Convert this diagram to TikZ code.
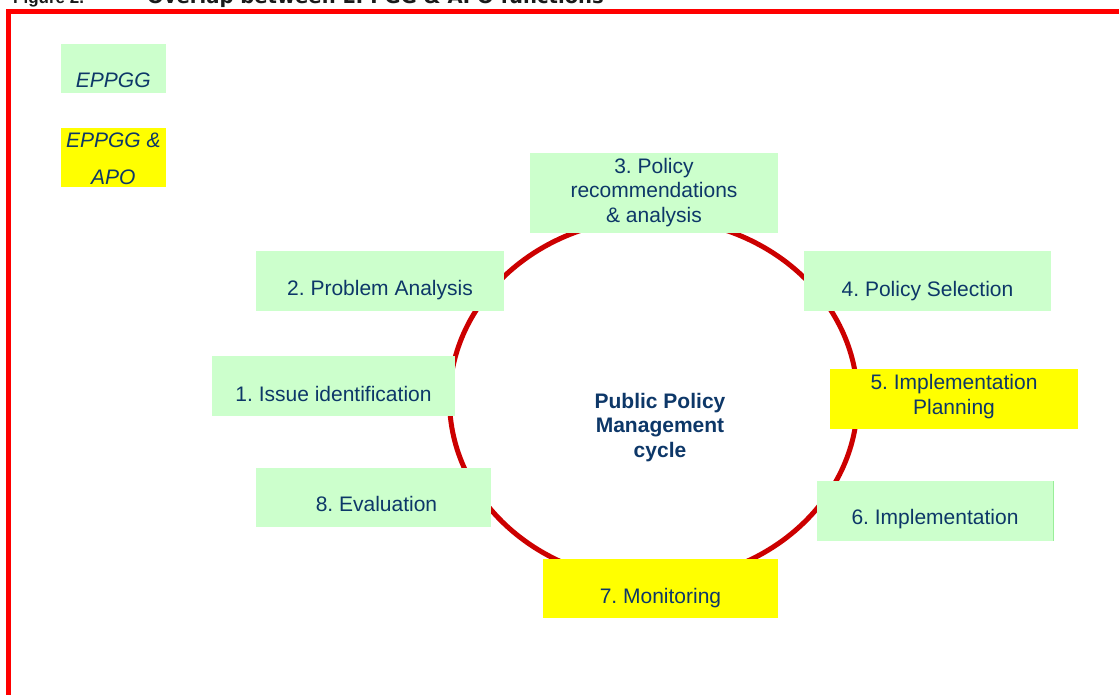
\documentclass[tikz,border=0pt]{standalone}
\usepackage{fontspec}
\setmainfont{Liberation Sans}
\newfontfamily\capfont{DejaVu Sans}
\frenchspacing
\definecolor{boxgreen}{HTML}{CCFFCC}
\definecolor{boxyellow}{HTML}{FFFF00}
\definecolor{txtblue}{RGB}{13,55,104}
\definecolor{circlered}{HTML}{CC0000}
\definecolor{framered}{HTML}{FF0000}
\definecolor{edgegreen}{HTML}{99EE99}
\definecolor{capgray}{HTML}{1A1A1A}
\tikzset{
  gbox/.style={fill=boxgreen, inner sep=0pt, outer sep=0pt, anchor=north west},
  ybox/.style={fill=boxyellow, inner sep=0pt, outer sep=0pt, anchor=north west},
  lbl/.style={text=txtblue, inner sep=0pt, anchor=base, align=center,
              font=\frenchspacing\fontsize{21}{24.5}\selectfont},
  leglbl/.style={lbl, font=\itshape\fontsize{21}{37}\selectfont},
  ctrlbl/.style={lbl, font=\bfseries\fontsize{21}{24.5}\selectfont},
  caplbl/.style={text=capgray, inner sep=0pt, anchor=base west,
                 font=\capfont\bfseries\fontsize{19.6}{20}\selectfont},
}
\begin{document}
\begin{tikzpicture}[x=1pt,y=-1pt]
\useasboundingbox (0,0) rectangle (1119,695);
% caption (cut off at top)
\node[caplbl, font=\bfseries\fontsize{17}{18}\selectfont] (capA) at (13,3.5) {Figure 2.};
\node[caplbl] (capB) at (147,3.5) {Overlap between EPPGG \& APO functions};
% frame
\draw[framered, line width=4.5pt] (8.7,800) -- (8.7,11.5) -- (1300,11.5);
% cycle ellipse
\draw[circlered, line width=5pt] (653.5,400) ellipse [x radius=204, y radius=181.5];
\node[ctrlbl] (ctr) at (660,457.3) {Public Policy\\Management\\cycle};
% legend
\node[gbox, minimum width=105, minimum height=49] (lg1) at (61,44) {};
\node[leglbl] (lg1t) at (113.3,88) {EPPGG};
\node[ybox, minimum width=105, minimum height=59] (lg2) at (61,128) {};
\node[leglbl] (lg2t) at (113.3,185) {EPPGG \&\\APO};
% boxes
\node[gbox, minimum width=243, minimum height=60] (b1) at (212,356) {};
\node[lbl] (t1) at (333.5,401) {1. Issue identification};
\node[gbox, minimum width=248, minimum height=60] (b2) at (256,251) {};
\node[lbl] (t2) at (380,295) {2. Problem Analysis};
\node[gbox, minimum width=248, minimum height=80] (b3) at (530,153) {};
\node[lbl] (t3) at (654,222.3) {3. Policy\\recommendations\\\& analysis};
\node[gbox, minimum width=247, minimum height=60] (b4) at (804,251) {};
\node[lbl] (t4) at (927.5,296) {4. Policy Selection};
\node[ybox, minimum width=248, minimum height=60] (b5) at (830,369) {};
\node[lbl] (t5) at (954,414) {5. Implementation\\Planning};
\node[gbox, minimum width=236, minimum height=60] (b6) at (817,481) {};
\draw[edgegreen, line width=1pt] (b6.north east) -- (b6.south east);
\node[lbl] (t6) at (935,524.3) {6. Implementation};
\node[ybox, minimum width=235, minimum height=59] (b7) at (543,559) {};
\node[lbl] (t7) at (660.5,603.3) {7. Monitoring};
\node[gbox, minimum width=235, minimum height=59] (b8) at (256,467.5) {};
\node[lbl] (t8) at (376.5,511.7) {8. Evaluation};
\end{tikzpicture}
\end{document}
